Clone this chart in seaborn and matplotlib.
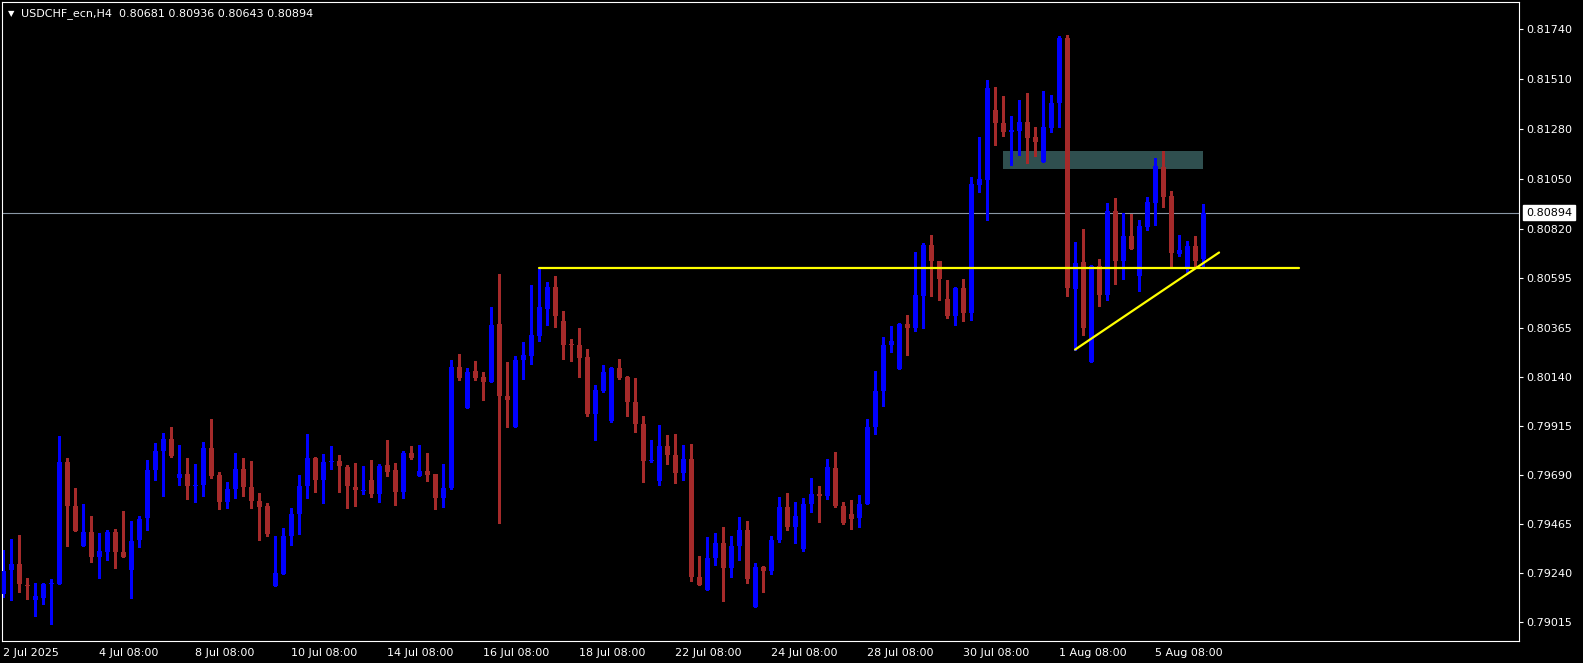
import numpy as np
import pandas as pd
import matplotlib
matplotlib.use("Agg")
import matplotlib.pyplot as plt
from matplotlib.patches import Rectangle
import seaborn as sns

# USDCHF_ecn H4 candles (bar 0 = 2 Jul 2025 08:00)
opens = [0.79142, 0.79251, 0.79281, 0.79185, 0.79116, 0.79125, 0.79187, 0.79187, 0.79750, 0.79548,
         0.79361, 0.79428, 0.79310, 0.79336, 0.79428, 0.79336, 0.79251, 0.79388, 0.79489, 0.79710,
         0.79801, 0.79855, 0.79676, 0.79695, 0.79636, 0.79645, 0.79814, 0.79690, 0.79566, 0.79623,
         0.79718, 0.79635, 0.79571, 0.79548, 0.79180, 0.79236, 0.79407, 0.79511, 0.79636, 0.79768,
         0.79664, 0.79747, 0.79754, 0.79727, 0.79635, 0.79613, 0.79667, 0.79600, 0.79736, 0.79713,
         0.79609, 0.79791, 0.79685, 0.79708, 0.79695, 0.79581, 0.79627, 0.80186, 0.79998, 0.80168,
         0.80140, 0.80117, 0.80383, 0.80053, 0.79907, 0.80215, 0.80236, 0.80328, 0.80452, 0.80553,
         0.80397, 0.80292, 0.80288, 0.80229, 0.79967, 0.80073, 0.79939, 0.80181, 0.80141, 0.80025,
         0.79925, 0.79752, 0.79659, 0.79823, 0.79782, 0.79699, 0.79763, 0.79222, 0.79159, 0.79306,
         0.79378, 0.79260, 0.79361, 0.79437, 0.79081, 0.79268, 0.79246, 0.79392, 0.79543, 0.79448,
         0.79350, 0.79554, 0.79603, 0.79590, 0.79722, 0.79548, 0.79511, 0.79489, 0.79554, 0.79907,
         0.80073, 0.80284, 0.80178, 0.80383, 0.80362, 0.80512, 0.80746, 0.80673, 0.80498, 0.80417,
         0.80549, 0.80435, 0.81023, 0.81045, 0.81366, 0.81306, 0.81266, 0.81271, 0.81311, 0.81242,
         0.81129, 0.81284, 0.81399, 0.81696, 0.80545, 0.80668, 0.80206, 0.80650, 0.80518, 0.80902,
         0.80674, 0.80787, 0.80605, 0.80827, 0.80940, 0.81104, 0.80970, 0.80706, 0.80633, 0.80741,
         0.80681]
highs = [0.79346, 0.79396, 0.79415, 0.79217, 0.79194, 0.79194, 0.79213, 0.79869, 0.79768, 0.79630,
         0.79557, 0.79502, 0.79424, 0.79437, 0.79442, 0.79525, 0.79479, 0.79502, 0.79759, 0.79837,
         0.79883, 0.79910, 0.79828, 0.79768, 0.79740, 0.79841, 0.79948, 0.79704, 0.79658, 0.79791,
         0.79768, 0.79754, 0.79607, 0.79561, 0.79407, 0.79447, 0.79538, 0.79690, 0.79875, 0.79773,
         0.79783, 0.79820, 0.79782, 0.79733, 0.79745, 0.79728, 0.79759, 0.79740, 0.79851, 0.79745,
         0.79800, 0.79823, 0.79828, 0.79791, 0.79695, 0.79740, 0.80218, 0.80246, 0.80181, 0.80213,
         0.80163, 0.80461, 0.80613, 0.80209, 0.80236, 0.80301, 0.80562, 0.80636, 0.80576, 0.80604,
         0.80443, 0.80314, 0.80365, 0.80269, 0.80103, 0.80195, 0.80183, 0.80223, 0.80145, 0.80135,
         0.79961, 0.79851, 0.79920, 0.79874, 0.79878, 0.79828, 0.79832, 0.79318, 0.79405, 0.79424,
         0.79451, 0.79410, 0.79497, 0.79479, 0.79286, 0.79270, 0.79410, 0.79589, 0.79607, 0.79566,
         0.79584, 0.79676, 0.79640, 0.79763, 0.79796, 0.79566, 0.79575, 0.79598, 0.79947, 0.80168,
         0.80324, 0.80374, 0.80388, 0.80425, 0.80714, 0.80755, 0.80792, 0.80674, 0.80585, 0.80553,
         0.80590, 0.81058, 0.81242, 0.81504, 0.81471, 0.81430, 0.81338, 0.81412, 0.81444, 0.81288,
         0.81453, 0.81435, 0.81706, 0.81710, 0.80760, 0.80820, 0.80654, 0.80682, 0.80939, 0.80962,
         0.80893, 0.80888, 0.80861, 0.80966, 0.81146, 0.81178, 0.80994, 0.80792, 0.80764, 0.80787,
         0.80936]
lows = [0.79127, 0.79113, 0.79150, 0.79117, 0.79039, 0.79095, 0.79003, 0.79187, 0.79361, 0.79430,
        0.79361, 0.79291, 0.79214, 0.79297, 0.79260, 0.79310, 0.79122, 0.79356, 0.79437, 0.79664,
        0.79590, 0.79770, 0.79645, 0.79577, 0.79563, 0.79594, 0.79673, 0.79531, 0.79535, 0.79584,
        0.79590, 0.79535, 0.79388, 0.79407, 0.79180, 0.79236, 0.79365, 0.79416, 0.79581, 0.79609,
        0.79558, 0.79714, 0.79609, 0.79535, 0.79544, 0.79600, 0.79586, 0.79563, 0.79682, 0.79552,
        0.79581, 0.79763, 0.79685, 0.79659, 0.79531, 0.79540, 0.79623, 0.80126, 0.79998, 0.80126,
        0.80034, 0.80117, 0.79466, 0.79907, 0.79907, 0.80132, 0.80201, 0.80306, 0.80376, 0.80371,
        0.80221, 0.80211, 0.80141, 0.79962, 0.79848, 0.80068, 0.79930, 0.80128, 0.79958, 0.79884,
        0.79655, 0.79749, 0.79645, 0.79737, 0.79650, 0.79664, 0.79200, 0.79182, 0.79159, 0.79274,
        0.79108, 0.79219, 0.79297, 0.79191, 0.79081, 0.79150, 0.79236, 0.79380, 0.79438, 0.79378,
        0.79341, 0.79517, 0.79471, 0.79577, 0.79540, 0.79462, 0.79439, 0.79448, 0.79554, 0.79875,
        0.80004, 0.80256, 0.80178, 0.80242, 0.80352, 0.80366, 0.80513, 0.80495, 0.80408, 0.80376,
        0.80397, 0.80403, 0.80987, 0.80862, 0.81207, 0.81248, 0.81115, 0.81161, 0.81124, 0.81156,
        0.81129, 0.81266, 0.81289, 0.80509, 0.80265, 0.80330, 0.80206, 0.80463, 0.80495, 0.80568,
        0.80591, 0.80729, 0.80536, 0.80816, 0.80839, 0.80922, 0.80646, 0.80697, 0.80623, 0.80646,
        0.80643]
closes = [0.79249, 0.79281, 0.79186, 0.79177, 0.79135, 0.79190, 0.79190, 0.79750, 0.79544, 0.79430,
          0.79428, 0.79310, 0.79341, 0.79428, 0.79333, 0.79310, 0.79387, 0.79488, 0.79713, 0.79800,
          0.79855, 0.79775, 0.79695, 0.79636, 0.79644, 0.79814, 0.79685, 0.79563, 0.79626, 0.79718,
          0.79632, 0.79567, 0.79540, 0.79416, 0.79240, 0.79410, 0.79511, 0.79640, 0.79768, 0.79664,
          0.79750, 0.79754, 0.79728, 0.79636, 0.79618, 0.79621, 0.79600, 0.79731, 0.79704, 0.79609,
          0.79791, 0.79768, 0.79708, 0.79690, 0.79581, 0.79630, 0.80186, 0.80135, 0.80163, 0.80135,
          0.80117, 0.80379, 0.80050, 0.80034, 0.80218, 0.80241, 0.80333, 0.80461, 0.80553, 0.80420,
          0.80288, 0.80284, 0.80226, 0.79967, 0.80080, 0.80163, 0.80181, 0.80135, 0.80022, 0.79921,
          0.79752, 0.79759, 0.79823, 0.79779, 0.79699, 0.79763, 0.79219, 0.79182, 0.79309, 0.79378,
          0.79260, 0.79364, 0.79437, 0.79209, 0.79268, 0.79246, 0.79392, 0.79543, 0.79448, 0.79502,
          0.79557, 0.79603, 0.79590, 0.79727, 0.79544, 0.79466, 0.79485, 0.79557, 0.79910, 0.80076,
          0.80287, 0.80305, 0.80383, 0.80362, 0.80517, 0.80746, 0.80673, 0.80590, 0.80417, 0.80549,
          0.80431, 0.81026, 0.81049, 0.81467, 0.81308, 0.81266, 0.81274, 0.81311, 0.81239, 0.81220,
          0.81288, 0.81398, 0.81696, 0.80550, 0.80663, 0.80366, 0.80650, 0.80518, 0.80902, 0.80674,
          0.80787, 0.80729, 0.80833, 0.80943, 0.81109, 0.80968, 0.80711, 0.80723, 0.80741, 0.80674,
          0.80894]

price_ticks = [0.81740, 0.81510, 0.81280, 0.81050, 0.80820, 0.80595, 0.80365,
               0.80140, 0.79915, 0.79690, 0.79465, 0.79240, 0.79015]
time_tick_bars = [0, 12, 24, 36, 48, 60, 72, 84, 96, 108, 120, 132, 144]
time_tick_labels = ["2 Jul 2025", "4 Jul 08:00", "8 Jul 08:00", "10 Jul 08:00",
                    "14 Jul 08:00", "16 Jul 08:00", "18 Jul 08:00", "22 Jul 08:00",
                    "24 Jul 08:00", "28 Jul 08:00", "30 Jul 08:00", "1 Aug 08:00",
                    "5 Aug 08:00"]

symbol = "USDCHF_ecn,H4"
last_price = 0.80894
level_bars = [67, 162]          # horizontal yellow line
level_prices = [0.80640, 0.80640]
trend_bars = [134, 152]         # rising yellow trendline
trend_prices = [0.80265, 0.80711]
zone_bars = [125, 150]          # dark slate zone
zone_prices = [0.81096, 0.81178]

BULL = "#0000ff"
BEAR = "#a52a2a"

sns.set_theme(style="dark", rc={
    "axes.facecolor": "black", "figure.facecolor": "black",
    "axes.edgecolor": "white", "axes.linewidth": 0.8,
    "text.color": "white", "xtick.color": "white", "ytick.color": "white",
    "axes.grid": False,
})
plt.rcParams['font.family'] = ['DejaVu Sans']

df = pd.DataFrame({"bar": np.arange(len(opens)), "open": opens, "high": highs,
                   "low": lows, "close": closes})
df["color"] = np.where(df["close"] >= df["open"], BULL, BEAR)
df["bottom"] = df[["open", "close"]].min(axis=1)
df["body"] = (df["close"] - df["open"]).abs().clip(lower=0.00005)

W, H = 1583, 663
fig = plt.figure(figsize=(W / 100, H / 100), dpi=100)
ax = fig.add_axes([2 / W, 22 / H, 1517 / W, 639 / H])

# zone behind everything
ax.add_patch(Rectangle((zone_bars[0], zone_prices[0]), zone_bars[1] - zone_bars[0],
                       zone_prices[1] - zone_prices[0], facecolor="#2f4f4f",
                       edgecolor="none", zorder=1))
ax.axhline(last_price, color="#8a97a5", lw=0.8, zorder=1.5)

ax.vlines(df["bar"], df["low"], df["high"], colors=df["color"], linewidth=0.8,
          antialiased=False, zorder=2)
ax.bar(df["bar"], df["body"], bottom=df["bottom"], width=0.625, color=df["color"],
       linewidth=0, antialiased=False, zorder=3)

sns.lineplot(x=level_bars, y=level_prices, color="yellow", lw=1.6, ax=ax, zorder=4)
sns.lineplot(x=trend_bars, y=trend_prices, color="yellow", lw=1.6, ax=ax, zorder=4)

ax.set_xlim(-0.16, 189.5)
ax.set_ylim(0.78926, 0.81862)

ax.yaxis.tick_right()
ax.set_yticks(price_ticks)
ax.set_yticklabels([f"{p:.5f}" for p in price_ticks])
ax.set_xticks(time_tick_bars)
ax.set_xticklabels(time_tick_labels)
for lbl in ax.get_xticklabels():
    lbl.set_horizontalalignment("left")
ax.tick_params(axis="y", length=3, width=0.8, pad=2, labelsize=8, colors="white")
ax.tick_params(axis="x", length=3, width=0.8, pad=2, labelsize=8, colors="white")
ax.set_xlabel("")
ax.set_ylabel("")
for s in ax.spines.values():
    s.set_color("white")
    s.set_visible(True)

ax.annotate(f"{last_price:.5f}", xy=(1, last_price), xycoords=("axes fraction", "data"),
            xytext=(7, 0), textcoords="offset pixels", ha="left", va="center",
            fontsize=8, color="black",
            bbox=dict(boxstyle="square,pad=0.25", fc="white", ec="white"))

title = f"{symbol}  {opens[-1]:.5f} {highs[-1]:.5f} {lows[-1]:.5f} {closes[-1]:.5f}"
fig.text(8 / W, 1 - 14 / H, "\u25bc", fontsize=6, color="white", va="center")
fig.text(21 / W, 1 - 14 / H, title, fontsize=8, color="white", va="center")

fig.savefig("out.png", dpi=100, facecolor="black")
